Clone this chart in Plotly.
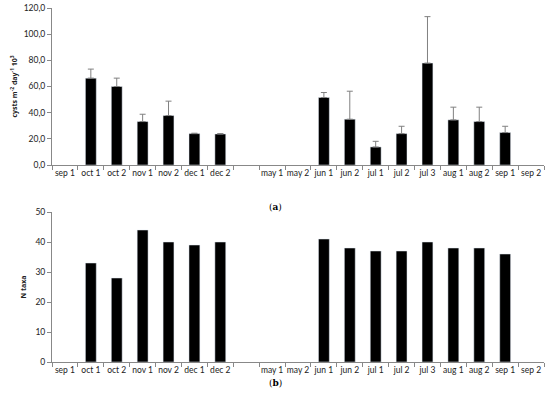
import plotly.graph_objects as go
from plotly.subplots import make_subplots

categories = ["sep 1", "oct 1", "oct 2", "nov 1", "nov 2", "dec 1", "dec 2", " ",
              "may 1", "may 2", "jun 1", "jun 2", "jul 1", "jul 2", "jul 3",
              "aug 1", "aug 2", "sep 1 ", "sep 2"]
tick_labels = ["sep 1", "oct 1", "oct 2", "nov 1", "nov 2", "dec 1", "dec 2", "",
               "may 1", "may 2", "jun 1", "jun 2", "jul 1", "jul 2", "jul 3",
               "aug 1", "aug 2", "sep 1", "sep 2"]
cysts = [None, 66.4, 60.0, 33.2, 37.8, 24.0, 23.7, None,
         None, None, 51.6, 35.0, 13.8, 24.0, 77.9, 34.5, 33.2, 24.8, None]
cysts_err = [0, 6.9, 6.4, 5.6, 11.0, 0.3, 0.3, 0,
             0, 0, 3.8, 21.4, 4.3, 5.6, 35.5, 9.7, 11.0, 4.8, 0]
ntaxa = [None, 33, 28, 44, 40, 39, 40, None,
         None, None, 41, 38, 37, 37, 40, 38, 38, 36, None]

fig = make_subplots(rows=2, cols=1, vertical_spacing=0.13)

fig.add_trace(go.Bar(x=categories, y=cysts, marker_color="black",
                     error_y=dict(type="data", symmetric=False, array=cysts_err,
                                  arrayminus=[0] * len(cysts_err), color="#808080",
                                  thickness=1, width=3)),
              row=1, col=1)
fig.add_trace(go.Bar(x=categories, y=ntaxa, marker_color="black"), row=2, col=1)

font = dict(family="Lato, Open Sans, sans-serif", size=8.5, color="#222222")
xaxis_common = dict(type="category", categoryorder="array", categoryarray=categories,
                    tickmode="array", tickvals=categories, ticktext=tick_labels,
                    tickson="boundaries", ticks="outside", ticklen=4, tickcolor="#888888",
                    showline=True, linecolor="#888888", linewidth=1, showgrid=False,
                    tickfont=font, tickangle=0, automargin=False,
                    range=[-0.5, 18.5], zeroline=False)
fig.update_xaxes(**xaxis_common)
fig.update_yaxes(showline=True, linecolor="#888888", linewidth=1, ticks="outside",
                 ticklen=4, tickcolor="#888888", showgrid=False, zeroline=False,
                 tickfont=font, automargin=False)
fig.update_yaxes(range=[0, 120], dtick=20, tickformat=".1f", row=1, col=1,
                 title=dict(text="<b>cysts m<sup>-2</sup> day<sup>-1</sup> 10<sup>3</sup></b>",
                            font=dict(family="Open Sans, sans-serif", size=7, color="#222222"),
                            standoff=5))
fig.update_yaxes(range=[0, 50], dtick=10, row=2, col=1,
                 title=dict(text="<b>N taxa</b>",
                            font=dict(family="Open Sans, sans-serif", size=7, color="#222222"),
                            standoff=7))

fig.update_layout(
    width=550, height=399, separators=",.",
    margin=dict(l=52, r=6, t=8, b=37),
    plot_bgcolor="white", paper_bgcolor="white",
    showlegend=False, bargap=0.58,
    yaxis=dict(domain=[0.5565, 1.0]),
    yaxis2=dict(domain=[0.0, 0.4237]),
    annotations=[
        dict(text="(<b>a</b>)", x=0.455, y=0.438, xref="paper", yref="paper",
             showarrow=False, font=dict(family="DejaVu Serif, serif", size=9, color="black")),
        dict(text="(<b>b</b>)", x=0.455, y=-0.079, xref="paper", yref="paper",
             showarrow=False, font=dict(family="DejaVu Serif, serif", size=9, color="black")),
    ],
)

fig.write_html("out.html", config={"displayModeBar": False},
               post_script="document.body.style.margin='0px';")
